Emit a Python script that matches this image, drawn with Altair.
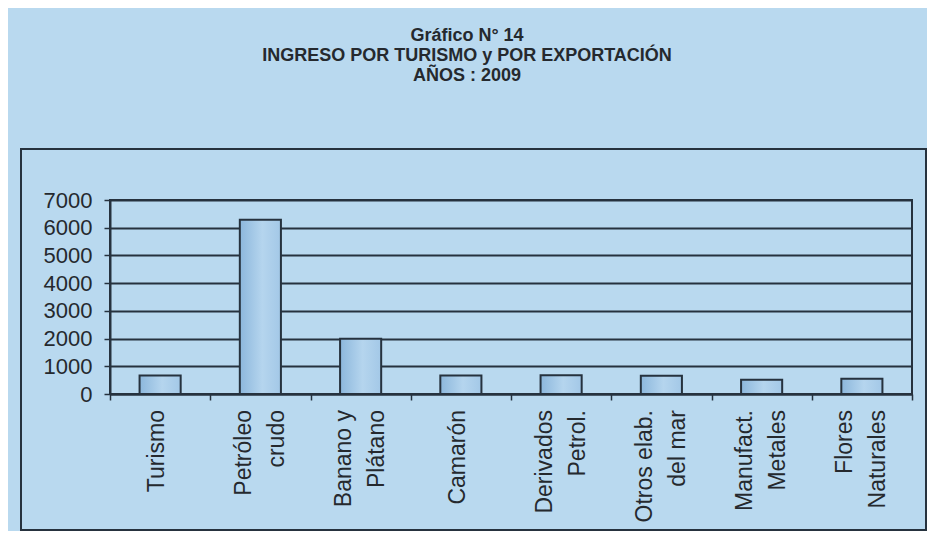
import altair as alt
import pandas as pd

# ---- data ----
categories = ["Turismo", "Petróleo\ncrudo", "Banano y\nPlátano", "Camarón",
              "Derivados\nPetrol.", "Otros elab.\ndel mar", "Manufact.\nMetales",
              "Flores\nNaturales"]
values = [670, 6284, 1995, 664, 680, 660, 510, 546]
y_ticks = [0, 1000, 2000, 3000, 4000, 5000, 6000, 7000]
title_lines = ["Gráfico N° 14", "INGRESO POR TURISMO y POR EXPORTACIÓN", "AÑOS : 2009"]

df = pd.DataFrame({"cat": categories, "val": values})

# label lines (derived from the category names)
rows = []
for c in categories:
    parts = c.split("\n")
    for i, p in enumerate(parts):
        rows.append({"cat": c, "line": p, "pos": i - (len(parts) - 1) / 2})
labels_df = pd.DataFrame(rows)

BG = "#b9d9ef"
DARK = "#26323e"
TXT = "#25292e"
FONT = "Liberation Sans"
LINE_GAP = 33

x_axis = alt.Axis(labels=False, tickBand="extent", tickSize=6, grid=False)
x_scale = alt.Scale(paddingInner=0, paddingOuter=0)

bars = alt.Chart(df).mark_bar(
    width=alt.RelativeBandSize(0.41),
    stroke=DARK,
    strokeWidth=2,
    fill=alt.Gradient(
        gradient="linear",
        stops=[alt.GradientStop(color="#8cb7dc", offset=0),
               alt.GradientStop(color="#b5d5ee", offset=0.55),
               alt.GradientStop(color="#a3c8e7", offset=1)],
        x1=0, x2=1, y1=0, y2=0,
    ),
).encode(
    x=alt.X("cat:N", sort=categories, title=None, scale=x_scale, axis=x_axis),
    y=alt.Y("val:Q", title=None,
            scale=alt.Scale(domain=[0, 7000], nice=False),
            axis=alt.Axis(values=y_ticks, format="d", grid=True, tickSize=6,
                          labelPadding=12, labelFontSize=22)),
)

label_layers = []
for p in sorted(labels_df["pos"].unique()):
    sub = labels_df[labels_df["pos"] == p]
    label_layers.append(
        alt.Chart(sub).mark_text(
            angle=270, align="right", baseline="middle", font=FONT, fontSize=23,
            color=TXT, dy=float(p) * LINE_GAP - (3 if p == 0 else 0)
        ).encode(
            x=alt.X("cat:N", sort=categories, title=None, scale=x_scale, axis=x_axis),
            y=alt.value(210),
            text="line:N",
        )
    )

frame = alt.Chart(pd.DataFrame({"k": [0]})).mark_rect(
    fillOpacity=0, stroke=DARK, strokeWidth=2
).encode(
    x=alt.value(-89), x2=alt.value(816), y=alt.value(-51), y2=alt.value(330)
)

title = alt.Chart(pd.DataFrame({"t": ["\n".join(title_lines)]})).mark_text(
    lineBreak="\n", font=FONT, fontSize=18, fontWeight="bold", align="center",
    baseline="middle", lineHeight=20, color=TXT
).encode(x=alt.value(357), y=alt.value(-164), text="t:N")

chart = alt.layer(frame, bars, *label_layers, title).properties(
    width=802, height=194,
    autosize=alt.AutoSizeParams(type="none"),
    padding={"left": 102, "top": 192, "right": 15, "bottom": 137},
    background=BG,
).configure_view(
    stroke=DARK, strokeWidth=2
).configure_axis(
    domainColor=DARK, domainWidth=2, tickColor=DARK, tickWidth=1.5,
    gridColor=DARK, gridWidth=2, gridOpacity=1,
    labelFont=FONT, labelColor=TXT,
)

chart.save("out.html", embed_options={"renderer": "svg", "actions": False})
